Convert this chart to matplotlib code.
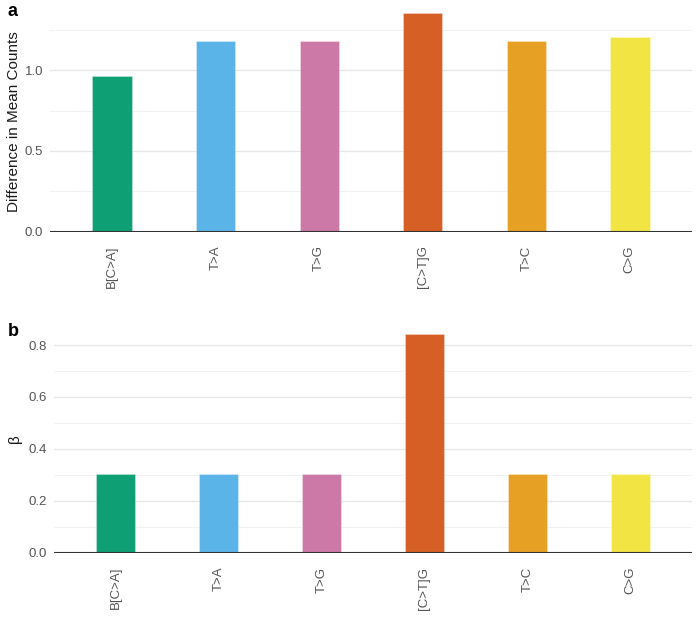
import matplotlib
matplotlib.use("Agg")
import matplotlib.pyplot as plt
from matplotlib.ticker import MultipleLocator, FormatStrFormatter

plt.rcParams['font.family'] = ['Liberation Sans', 'DejaVu Sans']

categories = ["B[C>A]", "T>A", "T>G", "[C>T]G", "T>C", "C>G"]
diff_mean_counts = [0.966, 1.180, 1.180, 1.357, 1.180, 1.208]
beta = [0.303, 0.303, 0.303, 0.843, 0.303, 0.303]
colors = ["#0E9F75", "#5BB4E7", "#CC79A7", "#D55F24", "#E6A024", "#F1E443"]

fig = plt.figure(figsize=(7.0, 6.21), dpi=100)
W, H = 700, 621

def make_ax(left, right, top, bottom):
    return fig.add_axes([left / W, 1 - bottom / H, (right - left) / W, (bottom - top) / H])

def style(ax, values, ylim, major, minor, ylabel, left, right, top, bottom, label_x, label_y):
    x = list(range(len(categories)))
    ax.bar(x, values, width=0.38, color=colors, edgecolor=(1, 1, 1, 0.35), linewidth=0.6, zorder=3)
    ax.set_xlim(-0.6, len(categories) - 0.4)
    ax.set_ylim(*ylim)
    ax.yaxis.set_major_locator(MultipleLocator(major))
    ax.yaxis.set_minor_locator(MultipleLocator(minor))
    ax.yaxis.set_major_formatter(FormatStrFormatter('%.1f'))
    ax.grid(which='major', axis='y', color='#e6e6e6', linewidth=0.9, zorder=0)
    ax.grid(which='minor', axis='y', color='#f2f2f2', linewidth=0.7, zorder=0)
    for s in ax.spines.values():
        s.set_visible(False)
    ax.axhline(0, color='#333333', linewidth=1.5, zorder=4)
    ax.set_xticks(x)
    ax.set_xticklabels(categories, rotation=90, fontsize=9.5, color='#555555')
    ax.tick_params(axis='x', length=0, pad=10)
    ax.tick_params(axis='y', which='both', length=0, pad=5, labelsize=9.5, labelcolor='#555555')
    ax.set_ylabel(ylabel, fontsize=11, color='#1a1a1a')
    ax.yaxis.set_label_coords((label_x - left) / (right - left), (bottom - label_y) / (bottom - top))

ax1 = make_ax(50, 692, 2, 231.5)
style(ax1, diff_mean_counts, (0, 1.425), 0.5, 0.25, "Difference in Mean Counts",
      50, 692, 2, 231.5, 21, 122)

ax2 = make_ax(54, 692, 323, 552.7)
style(ax2, beta, (0, 0.885), 0.2, 0.1, "β", 54, 692, 323, 552.7, 22, 439)

fig.text(8 / W, 1 - 11 / H, "a", fontsize=13, fontweight='bold', va='center', ha='left')
fig.text(8 / W, 1 - 331 / H, "b", fontsize=13, fontweight='bold', va='center', ha='left')

fig.savefig("out.png", dpi=100)
